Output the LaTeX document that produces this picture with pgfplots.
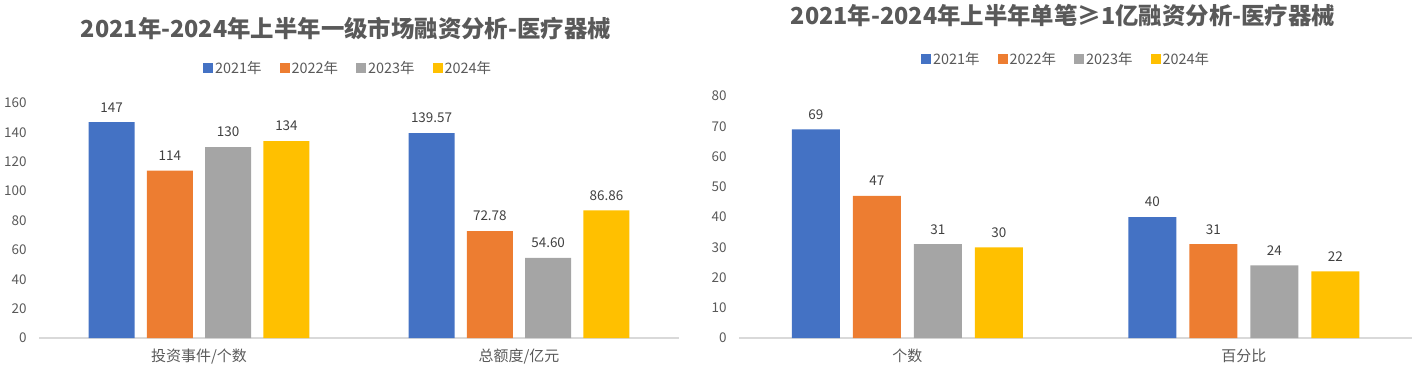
\documentclass[border=0pt]{standalone}
\usepackage{fontspec}
\setmainfont{Noto Sans CJK SC}
\usepackage{pgfplots}
\pgfplotsset{compat=1.18}
\definecolor{cA}{HTML}{4472C4}
\definecolor{cB}{HTML}{ED7D31}
\definecolor{cC}{HTML}{A5A5A5}
\definecolor{cD}{HTML}{FFC000}
\definecolor{txt}{HTML}{595959}
\definecolor{lab}{HTML}{404040}
\definecolor{axg}{HTML}{D9D9D9}
\pgfplotsset{
  mybars/.style={
    scale only axis,
    axis x line*=bottom, axis y line*=left,
    x axis line style={-,draw=axg,line width=1.2bp},
    y axis line style={draw=none},
    major tick length=0pt,
    tick style={draw=none},
    ymin=0,
    xmin=-0.5, xmax=1.5,
    xtick={0,1},
    clip=false,
    /pgf/number format/assume math mode=true,
    yticklabel style={font=\fontsize{13.5}{16}\selectfont, text=txt, xshift=-9bp},
    xticklabel style={font=\fontsize{15}{18}\selectfont, text=txt, yshift=-7bp},
    nodes near coords,
    point meta=explicit symbolic,
    nodes near coords style={font=\fontsize{13.5}{16}\selectfont, text=lab, yshift=6.5bp},
    legend columns=4,
    legend style={draw=none, fill=none, font=\fontsize{14.5}{17}\selectfont, text=txt,
      anchor=center, /tikz/every even column/.append style={column sep=16bp},
      nodes={inner sep=2bp}},
  },
  sqlegend/.style={
    legend image code/.code={\fill[##1, draw=none] (0bp,-5bp) rectangle (10bp,5bp);},
  },
}
\begin{document}
\begin{tikzpicture}[x=1bp,y=1bp]
\useasboundingbox (0,0) rectangle (1417,379);
\node[font=\bfseries\fontsize{23.5}{27}\selectfont, text=txt] at (346,351) {2021年-2024年上半年一级市场融资分析-医疗器械};
\node[font=\bfseries\fontsize{23.5}{27}\selectfont, text=txt] at (1063,363) {2021年-2024年上半年单笔≥1亿融资分析-医疗器械};
\begin{axis}[mybars,
  at={(39bp,41bp)}, anchor=south west,
  width=640bp, height=235bp,
  ymax=160, ytick={0,20,...,160},
  xticklabels={投资事件/个数, 总额度/亿元},
  ybar=12.3bp, bar width=46bp, sqlegend,
  legend style={at={(0.483,1.149)}},
]
\addplot[fill=cA, draw=none] coordinates {(0,147)[147] (1,139.57)[139.57]};
\addplot[fill=cB, draw=none] coordinates {(0,114)[114] (1,72.78)[72.78]};
\addplot[fill=cC, draw=none] coordinates {(0,130)[130] (1,54.60)[54.60]};
\addplot[fill=cD, draw=none] coordinates {(0,134)[134] (1,86.86)[86.86]};
\legend{2021年, 2022年, 2023年, 2024年}
\end{axis}
\begin{axis}[mybars,
  at={(739bp,41bp)}, anchor=south west,
  width=673bp, height=242bp,
  ymax=80, ytick={0,10,...,80},
  xticklabels={个数, 百分比},
  ybar=13bp, bar width=48bp, sqlegend,
  legend style={at={(0.486,1.153)}},
]
\addplot[fill=cA, draw=none] coordinates {(0,69)[69] (1,40)[40]};
\addplot[fill=cB, draw=none] coordinates {(0,47)[47] (1,31)[31]};
\addplot[fill=cC, draw=none] coordinates {(0,31)[31] (1,24)[24]};
\addplot[fill=cD, draw=none] coordinates {(0,30)[30] (1,22)[22]};
\legend{2021年, 2022年, 2023年, 2024年}
\end{axis}
\end{tikzpicture}
\end{document}
